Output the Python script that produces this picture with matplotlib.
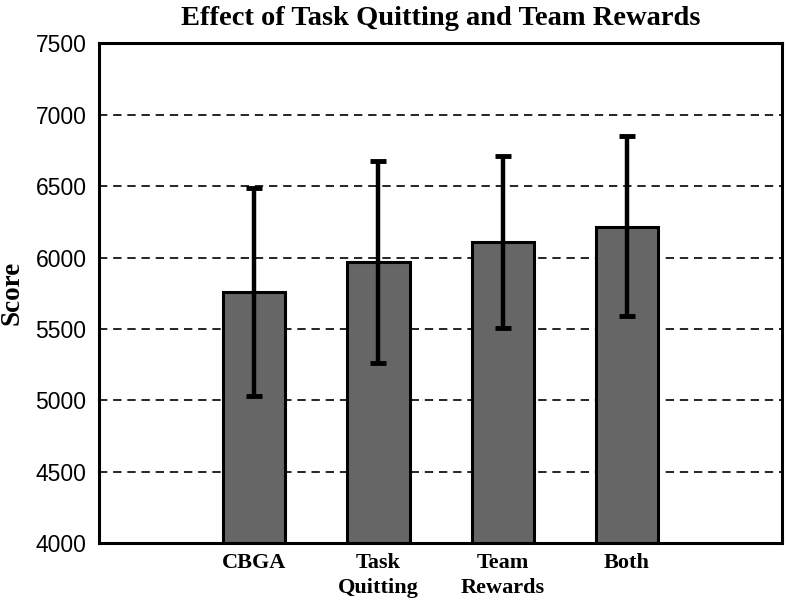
import numpy as np
from matplotlib import pyplot as plt

categories = ['CBGA', 'Task\nQuitting', 'Team\nRewards', 'Both']
scores = [5757, 5967, 6108, 6212]
err_low = [726, 707, 599, 621]
err_high = [733, 709, 602, 639]

fig = plt.figure(figsize=(7.86, 6.0), dpi=100)
ax = fig.add_axes([0.126, 0.0945, 0.869, 0.8335])

x = np.arange(1, len(categories) + 1)

ax.set_axisbelow(True)
ax.yaxis.grid(True, linestyle=(0, (5, 3.5)), color='black', linewidth=1.2)

ax.bar(x, [s - 4000 for s in scores], bottom=4000, width=0.5,
       color='#666666', edgecolor='black', linewidth=2.2, zorder=2)
ax.errorbar(x, scores, yerr=[err_low, err_high], fmt='none', ecolor='black',
            elinewidth=3.2, capsize=6, capthick=3.5, zorder=3)

ax.set_xlim(-0.25, 5.25)
ax.set_ylim(4000, 7500)
ax.set_yticks(np.arange(4000, 7501, 500))
ax.set_xticks(x)
ax.set_xticklabels(categories, family='Liberation Serif', fontweight='bold',
                   fontsize=16, linespacing=1.32)
for lab in ax.get_yticklabels():
    lab.set_family('Liberation Sans')
    lab.set_fontsize(16.5)
ax.tick_params(axis='both', length=0)
ax.tick_params(axis='y', pad=9)
ax.tick_params(axis='x', pad=7)
for sp in ax.spines.values():
    sp.set_linewidth(2.2)

ax.set_ylabel('Score', family='Liberation Serif', fontweight='bold',
              fontsize=19.5, labelpad=8)
ax.set_title('Effect of Task Quitting and Team Rewards', family='Liberation Serif',
             fontweight='bold', fontsize=20.5, pad=13)

fig.savefig('out.png', dpi=100)
